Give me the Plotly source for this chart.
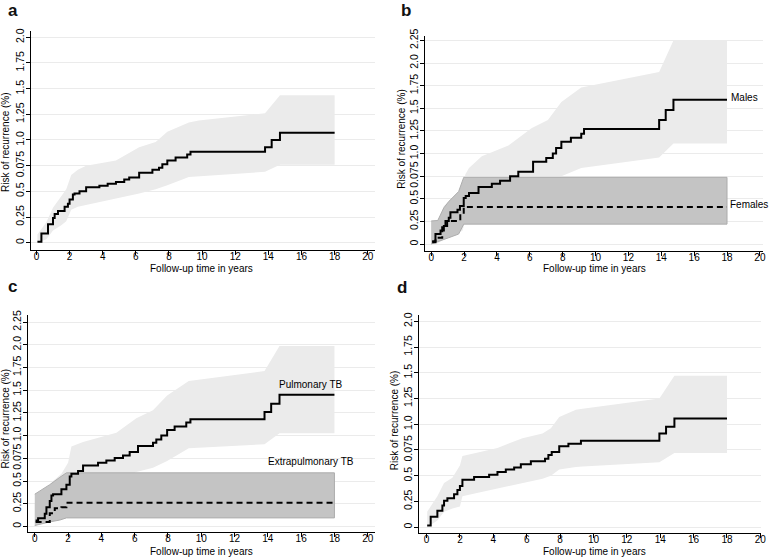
import plotly.graph_objects as go

W, H = 771, 559
FONT = "Liberation Sans, Arial, sans-serif"

# ---------------- data ----------------
# Panel a: overall
a_t = [0.06, 0.3, 0.7, 1.0, 1.1, 1.3, 1.7, 1.9, 2.0, 2.2, 2.3, 2.6, 3.0, 3.8, 4.3, 4.8, 5.3, 5.6, 6.2, 7.0, 7.4, 7.6, 7.9, 8.4, 9.1, 9.3, 13.8, 14.2, 14.7, 18.0]
a_r = [0.01, 0.09, 0.18, 0.24, 0.28, 0.31, 0.35, 0.38, 0.42, 0.47, 0.48, 0.50, 0.54, 0.555, 0.574, 0.59, 0.615, 0.635, 0.68, 0.71, 0.73, 0.765, 0.80, 0.83, 0.86, 0.885, 0.93, 1.0, 1.07, 1.07]
ab_t = [0.06, 0.6, 1.0, 1.5, 1.8, 2.1, 2.5, 3.0, 4.8, 6.2, 7.2, 7.9, 9.2, 9.8, 13.8, 14.7, 18.0]
ab_up = [0.08, 0.2, 0.34, 0.46, 0.52, 0.66, 0.71, 0.75, 0.80, 0.93, 0.98, 1.08, 1.17, 1.19, 1.26, 1.435, 1.435]
ab_lo = [0.0, 0.035, 0.12, 0.17, 0.21, 0.32, 0.35, 0.37, 0.43, 0.48, 0.52, 0.56, 0.64, 0.65, 0.69, 0.76, 0.76]

# Panel b: males / females
bm_t = [0.06, 0.26, 0.57, 0.77, 0.97, 1.07, 1.17, 1.6, 1.75, 1.98, 2.1, 2.3, 2.88, 3.69, 4.19, 4.8, 5.3, 6.2, 7.0, 7.4, 7.6, 7.92, 8.5, 9.13, 9.3, 13.87, 14.27, 14.74, 18.0]
bm_r = [0.03, 0.11, 0.15, 0.2, 0.255, 0.29, 0.35, 0.38, 0.42, 0.51, 0.53, 0.565, 0.63, 0.667, 0.70, 0.75, 0.80, 0.91, 0.95, 1.0, 1.06, 1.13, 1.175, 1.22, 1.27, 1.37, 1.48, 1.594, 1.594]
bmb_t = [0.0, 0.4, 0.77, 1.07, 1.57, 1.9, 2.08, 2.3, 3.08, 4.7, 6.1, 7.1, 7.92, 9.13, 13.87, 14.74, 18.0]
bmb_up = [0.255, 0.26, 0.42, 0.47, 0.53, 0.58, 0.77, 0.84, 0.97, 1.09, 1.28, 1.37, 1.57, 1.73, 1.9, 2.25, 2.25]
bmb_lo = [0.0, 0.01, 0.05, 0.11, 0.13, 0.145, 0.255, 0.26, 0.29, 0.38, 0.47, 0.55, 0.75, 0.84, 0.955, 1.11, 1.11]
bf_t = [0.06, 0.26, 0.67, 0.87, 1.77, 1.98, 18.0]
bf_r = [0.02, 0.07, 0.2, 0.255, 0.33, 0.41, 0.41]
bfb_t = [0.0, 0.4, 0.77, 1.07, 1.67, 1.98, 18.0]
bfb_up = [0.255, 0.26, 0.4, 0.47, 0.58, 0.737, 0.737]
bfb_lo = [0.0, 0.02, 0.05, 0.07, 0.11, 0.22, 0.22]

# Panel c: pulmonary / extrapulmonary
cp_t = [0.05, 0.2, 0.6, 0.7, 0.9, 1.0, 1.1, 1.6, 1.9, 2.1, 2.2, 2.6, 2.9, 3.8, 4.3, 4.8, 5.3, 5.7, 6.2, 7.1, 7.3, 7.6, 7.95, 8.4, 9.1, 9.35, 13.8, 14.2, 14.7, 18.0]
cp_r = [0.065, 0.09, 0.14, 0.21, 0.28, 0.34, 0.355, 0.41, 0.46, 0.55, 0.58, 0.61, 0.67, 0.70, 0.725, 0.754, 0.78, 0.82, 0.884, 0.92, 0.957, 1.0, 1.06, 1.10, 1.145, 1.18, 1.26, 1.35, 1.45, 1.45]
cpb_t = [0.0, 1.1, 1.6, 2.0, 2.2, 2.9, 4.9, 6.1, 7.1, 7.95, 9.25, 13.8, 14.7, 18.0]
cpb_up = [0.25, 0.5, 0.58, 0.7, 0.88, 0.93, 1.03, 1.19, 1.28, 1.44, 1.6, 1.71, 1.985, 1.985]
cpb_lo = [0.0, 0.15, 0.2, 0.3, 0.33, 0.4, 0.5, 0.6, 0.645, 0.72, 0.86, 0.905, 1.025, 1.025]
ce_t = [0.05, 0.9, 1.2, 1.6, 1.9, 18.0]
ce_r = [0.05, 0.145, 0.2, 0.21, 0.26, 0.26]
ceb_t = [0.0, 0.9, 1.5, 1.9, 18.0]
ceb_up = [0.355, 0.46, 0.54, 0.59, 0.59]
ceb_lo = [0.01, 0.05, 0.07, 0.094, 0.094]

# Panel d: overall (alternative)
d_t = [0.04, 0.25, 0.65, 0.95, 1.05, 1.25, 1.65, 1.85, 2.0, 2.15, 2.85, 3.75, 4.25, 4.75, 5.25, 5.65, 6.25, 7.1, 7.3, 7.5, 7.95, 8.5, 9.25, 13.95, 14.35, 14.85, 18.0]
d_r = [0.016, 0.1, 0.16, 0.21, 0.256, 0.28, 0.32, 0.36, 0.40, 0.46, 0.486, 0.51, 0.535, 0.56, 0.58, 0.61, 0.64, 0.665, 0.70, 0.73, 0.785, 0.81, 0.84, 0.91, 0.975, 1.055, 1.055]
db_t = [0.04, 0.65, 1.05, 1.55, 2.0, 2.15, 2.95, 4.25, 5.75, 6.95, 7.45, 7.95, 8.95, 9.35, 13.95, 14.85, 18.0]
db_up = [0.15, 0.3, 0.43, 0.48, 0.6, 0.69, 0.72, 0.77, 0.864, 0.91, 0.96, 1.07, 1.14, 1.15, 1.25, 1.47, 1.47]
db_lo = [0.0, 0.064, 0.15, 0.18, 0.2, 0.3, 0.33, 0.38, 0.43, 0.47, 0.5, 0.56, 0.585, 0.59, 0.63, 0.72, 0.72]

x_ticks = [0, 2, 4, 6, 8, 10, 12, 14, 16, 18, 20]
y_ticks_20 = [0, 0.25, 0.5, 0.75, 1.0, 1.25, 1.5, 1.75, 2.0]
y_text_20 = ["0", "0.25", "0.5", "0.075", "1.0", "1.25", "1.5", "1.75", "2.0"]
y_ticks_225 = y_ticks_20 + [2.25]
y_text_225 = y_text_20 + ["2.25"]

x_title = "Follow-up time in years"
y_title = "Risk of recurrence (%)"
panel_letters = ["a", "b", "c", "d"]

LIGHT = "#ebebeb"
DARK = "#c4c4c4"

fig = go.Figure()


def band(t, up, lo, axn, color, border=None):
    fig.add_trace(go.Scatter(
        x=list(t) + list(t)[::-1], y=list(up) + list(lo)[::-1],
        fill="toself", fillcolor=color, mode="lines",
        line=dict(color=border if border else color, width=1 if border else 0),
        xaxis="x" + axn, yaxis="y" + axn, hoverinfo="skip", showlegend=False))


def step(t, r, axn, dash=None):
    fig.add_trace(go.Scatter(
        x=t, y=r, mode="lines", line=dict(color="black", width=2, shape="hv", dash=dash),
        xaxis="x" + axn, yaxis="y" + axn, showlegend=False))


# panel a
band(ab_t, ab_up, ab_lo, "", LIGHT)
step(a_t, a_r, "")
# panel b
band(bmb_t, bmb_up, bmb_lo, "2", LIGHT)
band(bfb_t, bfb_up, bfb_lo, "2", DARK, "#adadad")
step(bm_t, bm_r, "2")
step(bf_t, bf_r, "2", dash="6px,4px")
# panel c
band(cpb_t, cpb_up, cpb_lo, "3", LIGHT)
band(ceb_t, ceb_up, ceb_lo, "3", DARK, "#adadad")
step(cp_t, cp_r, "3")
step(ce_t, ce_r, "3", dash="6px,4px")
# panel d
band(db_t, db_up, db_lo, "4", LIGHT)
step(d_t, d_r, "4")

# ---------------- layout ----------------
def px_x(p):
    return p / W


def px_y(p):
    return 1 - p / H


panels = {
    "": dict(xd=(31, 377), yd=(246, 24), xr=(-0.34, 20.41), yr=(-0.07, 2.064), yt=(y_ticks_20, y_text_20)),
    "2": dict(xd=(428, 768), yd=(247, 29), xr=(-0.363, 20.19), yr=(-0.076, 2.303), yt=(y_ticks_225, y_text_225)),
    "3": dict(xd=(28, 377), yd=(532, 312), xr=(-0.418, 20.41), yr=(-0.065, 2.326), yt=(y_ticks_225, y_text_225)),
    "4": dict(xd=(422, 766), yd=(533, 312), xr=(-0.435, 20.04), yr=(-0.06, 2.06), yt=(y_ticks_20, y_text_20)),
}

xtickfont = dict(family=FONT, size=10, color="black")
ytickfont = dict(family=FONT, size=10.5, color="black")
layout = dict(width=W, height=H, margin=dict(l=0, r=0, t=0, b=0),
              paper_bgcolor="white", plot_bgcolor="white", showlegend=False,
              font=dict(family=FONT, size=10, color="black"))
for k, p in panels.items():
    layout["xaxis" + k] = dict(
        domain=[px_x(p["xd"][0]), px_x(p["xd"][1])], range=list(p["xr"]),
        anchor="y" + k, tickvals=x_ticks, ticks="outside", ticklen=4, tickwidth=1,
        tickcolor="black", showline=True, linecolor="black", linewidth=1,
        showgrid=False, zeroline=False, tickfont=xtickfont, fixedrange=True,
        ticklabelstandoff=-7)
    layout["yaxis" + k] = dict(
        domain=[px_y(p["yd"][0]), px_y(p["yd"][1])], range=list(p["yr"]),
        anchor="x" + k, tickvals=p["yt"][0], ticktext=p["yt"][1], tickangle=-90,
        ticks="outside", ticklen=4, tickwidth=1, tickcolor="black",
        showline=True, linecolor="black", linewidth=1,
        showgrid=True, gridcolor="#ebebeb", gridwidth=1, zeroline=False,
        tickfont=ytickfont, fixedrange=True, ticklabelstandoff=-2)

DY = -2  # annotation vertical correction (px)
annotations = []
# panel letters
letter_pos = [(6, 4), (402, 3.5), (6.5, 283), (398, 284)]
for lt, (lx, ly) in zip(panel_letters, letter_pos):
    annotations.append(dict(text="<b>%s</b>" % lt, x=px_x(lx), y=px_y(ly), xref="paper", yref="paper",
                            xanchor="left", yanchor="middle", showarrow=False,
                            font=dict(family=FONT, size=17, color="#111")))
# axis titles
xt_pos = [(203, 266.5 + DY), (598, 266.5 + DY), (203, 553 + DY), (598, 553 + DY)]
yt_pos = [(6, 136.7), (404, 134), (6, 416.7), (397, 419)]
for (xx, xy), (yx, yy) in zip(xt_pos, yt_pos):
    annotations.append(dict(text=x_title, x=px_x(xx), y=px_y(xy), xref="paper", yref="paper",
                            xanchor="center", yanchor="middle", showarrow=False,
                            font=dict(family=FONT, size=10, color="black")))
    annotations.append(dict(text=y_title, x=px_x(yx), y=px_y(yy), xref="paper", yref="paper",
                            xanchor="center", yanchor="middle", showarrow=False, textangle=-90,
                            font=dict(family=FONT, size=10, color="black")))
# series labels
annotations += [
    dict(text="Males", x=18.12, y=bm_r[-1], xref="x2", yref="y2", xanchor="left", yanchor="middle",
         showarrow=False, yshift=-DY, font=dict(family=FONT, size=10, color="black")),
    dict(text="Females", x=18.05, y=bf_r[-1], xref="x2", yref="y2", xanchor="left", yanchor="middle",
         showarrow=False, yshift=-DY, font=dict(family=FONT, size=10, color="black")),
    dict(text="Pulmonary TB", x=16.6, y=1.54, xref="x3", yref="y3", xanchor="center", yanchor="middle",
         showarrow=False, yshift=-DY, font=dict(family=FONT, size=10, color="black")),
    dict(text="Extrapulmonary TB", x=16.6, y=0.69, xref="x3", yref="y3", xanchor="center", yanchor="middle",
         showarrow=False, yshift=-DY, font=dict(family=FONT, size=10, color="black")),
]
layout["annotations"] = annotations
fig.update_layout(**layout)
fig.write_html("out.html", config={"displayModeBar": False},
               post_script="document.body.style.margin='0';document.body.style.padding='0';"
                           "document.body.style.overflow='hidden';")
